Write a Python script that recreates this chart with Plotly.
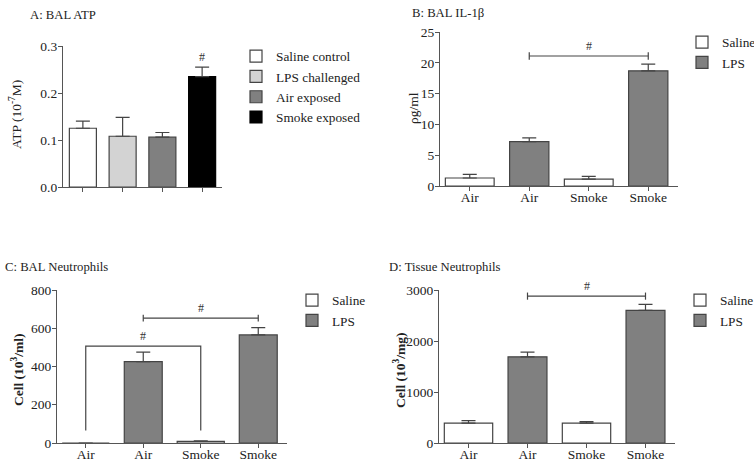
import plotly.graph_objects as go

W, H = 754, 463

# ---- data ----
# A: BAL ATP
atp_groups = ["Saline control", "LPS challenged", "Air exposed", "Smoke exposed"]
atp_mean = [0.125, 0.108, 0.106, 0.235]
atp_err = [0.015, 0.040, 0.010, 0.020]
atp_colors = ["white", "#d3d3d3", "#808080", "black"]

# B, C, D: Saline / LPS x Air / Smoke
cat_labels = ["Air", "Air", "Smoke", "Smoke"]
saline_pos = [0, 2]
lps_pos = [1, 3]

il1b_saline = [1.3, 1.1]
il1b_saline_err = [0.6, 0.45]
il1b_lps = [7.2, 18.7]
il1b_lps_err = [0.6, 1.1]

baln_saline = [0, 8]
baln_saline_err = [0, 3]
baln_lps = [425, 565]
baln_lps_err = [50, 38]

tisn_saline = [390, 390]
tisn_saline_err = [50, 30]
tisn_lps = [1690, 2600]
tisn_lps_err = [90, 120]

# significance brackets: (x0, x1, y, foot)
brk_b = [(1, 3, 21.1, None)]
brk_c = [(1, 3, 653, None), (0, 2, 507, 66)]
brk_d = [(1, 3, 2880, None)]

FONT = "Liberation Serif"
EDGE = "#444444"
AXC = "#555555"


def px(x):
    return x / W


def py(y):
    return 1 - y / H


fig = go.Figure()


def err(vals):
    return dict(type="data", symmetric=False, array=vals, arrayminus=[0] * len(vals),
                color=EDGE, thickness=1.2, width=7)


# panel A
for i, g in enumerate(atp_groups):
    fig.add_trace(go.Bar(
        x=[i], y=[atp_mean[i]], name=g, width=0.68,
        marker=dict(color=atp_colors[i], line=dict(color=EDGE if i < 3 else "black", width=1.2)),
        error_y=err([atp_err[i]]), xaxis="x", yaxis="y", legend="legend"))

# panels B-D
panels = [
    ("x2", "y2", "legend2", il1b_saline, il1b_saline_err, il1b_lps, il1b_lps_err),
    ("x3", "y3", "legend3", baln_saline, baln_saline_err, baln_lps, baln_lps_err),
    ("x4", "y4", "legend4", tisn_saline, tisn_saline_err, tisn_lps, tisn_lps_err),
]
for xa, ya, lg, s, se, l, le in panels:
    fig.add_trace(go.Bar(x=saline_pos, y=s, name="Saline", width=0.82,
                         marker=dict(color="white", line=dict(color=EDGE, width=1.2)),
                         error_y=err(se), xaxis=xa, yaxis=ya, legend=lg))
    fig.add_trace(go.Bar(x=lps_pos, y=l, name="LPS", width=0.66,
                         marker=dict(color="#808080", line=dict(color=EDGE, width=1.2)),
                         error_y=err(le), xaxis=xa, yaxis=ya, legend=lg))

# brackets
shapes = []
annots = []


def bracket(xa, ya, x0, x1, y, foot, tick):
    ln = dict(color=EDGE, width=1.2)
    if foot is None:
        shapes.append(dict(type="line", xref=xa, yref=ya, x0=x0, x1=x1, y0=y, y1=y, line=ln))
        for xx in (x0, x1):
            shapes.append(dict(type="line", xref=xa, yref=ya, x0=xx, x1=xx,
                               y0=y - tick, y1=y + tick, line=ln))
    else:
        shapes.append(dict(type="path", xref=xa, yref=ya,
                           path=f"M{x0},{foot} L{x0},{y} L{x1},{y} L{x1},{foot}", line=ln))
    annots.append(dict(xref=xa, yref=ya, x=(x0 + x1) / 2, y=y, text="#", showarrow=False,
                       yanchor="bottom", font=dict(size=12, color="#333"), yshift=1))


for b in brk_b:
    bracket("x2", "y2", *b, 0.6)
for b in brk_c:
    bracket("x3", "y3", *b, 18)
for b in brk_d:
    bracket("x4", "y4", *b, 70)

# '#' over smoke bar in A
annots.append(dict(xref="x", yref="y", x=3, y=atp_mean[3] + atp_err[3], text="#", showarrow=False,
                   yanchor="bottom", font=dict(size=12, color="#333"), yshift=1))

# panel titles
for t, x, y in [("A: BAL ATP", 28, 15), ("B: BAL IL-1β", 410, 13),
                ("C: BAL Neutrophils", 3, 267), ("D: Tissue Neutrophils", 387, 267)]:
    annots.append(dict(xref="paper", yref="paper", x=px(x), y=py(y), text=t, showarrow=False,
                       xanchor="left", yanchor="middle", font=dict(size=12.7, color="#222")))

# y-axis titles
for t, x, y in [("ATP (10<sup>-7</sup>M)", 15, 115), ("ρg/ml", 413, 108),
                ("<b>Cell (10<sup>3</sup>/ml)</b>", 17, 370),
                ("<b>Cell (10<sup>3</sup>/mg)</b>", 399, 370)]:
    annots.append(dict(xref="paper", yref="paper", x=px(x), y=py(y), text=t, showarrow=False,
                       textangle=-90, xanchor="center", yanchor="middle",
                       font=dict(size=13.5, color="#222")))

axbase = dict(showline=True, linecolor=AXC, linewidth=1.2, ticks="outside", ticklen=4,
              tickcolor=AXC, tickwidth=1.2, showgrid=False, zeroline=False,
              tickfont=dict(size=13.5, color="#222"), ticklabelstandoff=-2)
xbase = dict(axbase, range=[-0.5, 3.5], tickvals=[0, 1, 2, 3], ticklen=4,
             ticklabelstandoff=-5)

layout = dict(
    width=W, height=H, margin=dict(l=0, r=0, t=0, b=0, autoexpand=False),
    plot_bgcolor="white", paper_bgcolor="white",
    font=dict(family=FONT, color="#222"),
    barmode="overlay", shapes=shapes, annotations=annots,
    xaxis=dict(xbase, domain=[px(63), px(222)], anchor="y", showticklabels=False),
    yaxis=dict(axbase, domain=[py(187), py(46)], range=[0, 0.3], anchor="x",
               tickvals=[0, 0.1, 0.2, 0.3], tickformat=".1f"),
    xaxis2=dict(xbase, domain=[px(440), px(678)], anchor="y2", ticktext=cat_labels),
    yaxis2=dict(axbase, domain=[py(186), py(32)], range=[0, 25], anchor="x2",
                tickvals=[0, 5, 10, 15, 20, 25]),
    xaxis3=dict(xbase, domain=[px(57), px(287)], anchor="y3", ticktext=cat_labels),
    yaxis3=dict(axbase, domain=[py(443), py(290)], range=[0, 800], anchor="x3",
                tickvals=[0, 200, 400, 600, 800]),
    xaxis4=dict(xbase, domain=[px(439), px(675)], anchor="y4", ticktext=cat_labels),
    yaxis4=dict(axbase, domain=[py(443), py(290)], range=[0, 3000], anchor="x4",
                tickvals=[0, 1000, 2000, 3000]),
)

leg = dict(font=dict(size=13.3, color="#222"), bgcolor="rgba(0,0,0,0)", xanchor="left",
           yanchor="top", itemwidth=30, tracegroupgap=0)
layout["legend"] = dict(leg, x=px(236), y=py(41))
layout["legend2"] = dict(leg, x=px(682), y=py(27))
layout["legend3"] = dict(leg, x=px(292), y=py(285))
layout["legend4"] = dict(leg, x=px(680), y=py(285))

fig.update_layout(**layout)

# page has a default 8px body margin; drop it so the figure sits at 0,0
fig.write_html("out.html", config={"displayModeBar": False},
               post_script="document.body.style.margin='0';document.body.style.overflow='hidden';")
